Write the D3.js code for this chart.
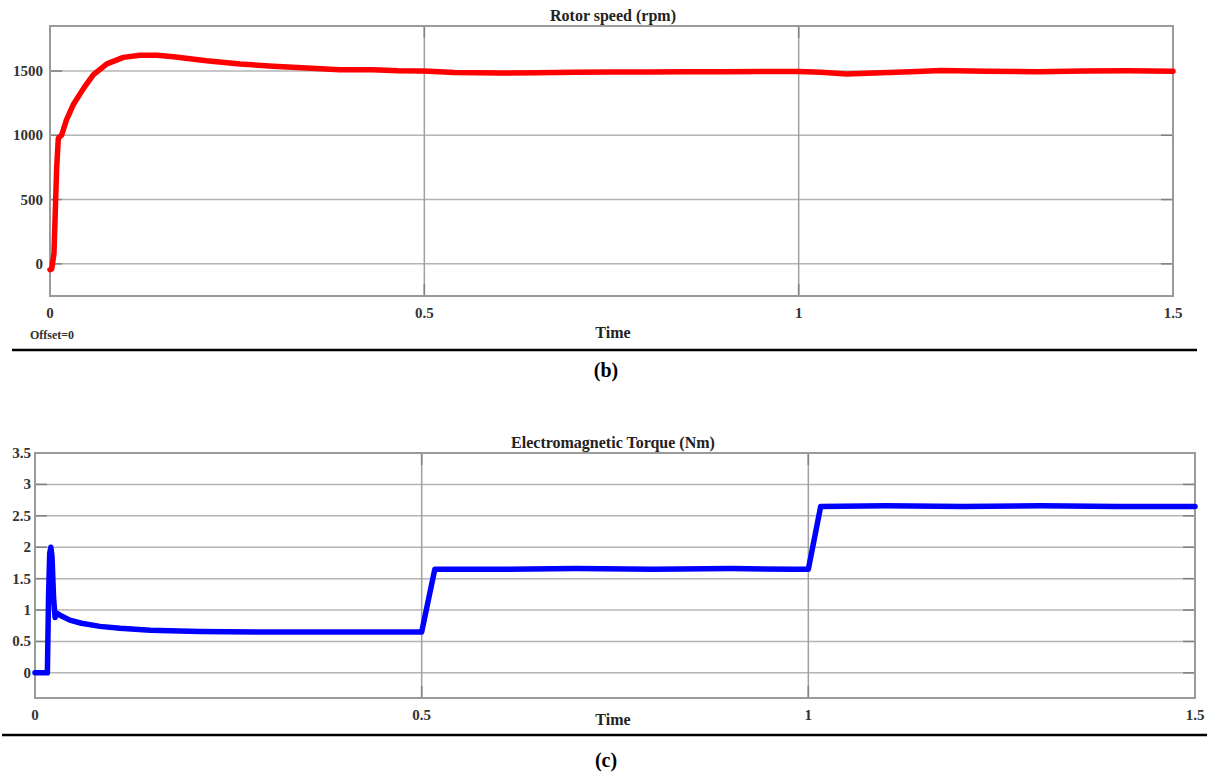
<!DOCTYPE html>
<html>
<head>
<meta charset="utf-8">
<script src="https://cdn.jsdelivr.net/npm/d3@7"></script>
<style>
  html, body { margin: 0; padding: 0; background: #fff; }
  svg { display: block; }
  text { font-family: "Liberation Serif", "Times New Roman", serif; font-weight: bold; }
</style>
</head>
<body>
<svg id="fig" width="1212" height="775"></svg>
<script>
// Rotor speed (rpm) over time (s)
const speedTime  = [0, 0.0023, 0.0053, 0.0089, 0.0111, 0.0156, 0.022, 0.031, 0.045, 0.058, 0.076, 0.098, 0.12, 0.143, 0.165, 0.209, 0.254, 0.298, 0.343, 0.387, 0.431, 0.465, 0.5, 0.54, 0.6, 0.65, 0.7, 0.75, 0.8, 0.85, 0.9, 0.95, 1.0, 1.03, 1.064, 1.1, 1.15, 1.19, 1.25, 1.32, 1.38, 1.44, 1.5];
const speedValue = [-45, -39, 80, 744, 977, 1002, 1120, 1237, 1367, 1471, 1555, 1606, 1622, 1622, 1611, 1580, 1555, 1537, 1523, 1510, 1510, 1502, 1500, 1488, 1484, 1486, 1490, 1492, 1492, 1494, 1495, 1497, 1496, 1490, 1477, 1484, 1494, 1503, 1498, 1495, 1500, 1502, 1498];

// Electromagnetic torque (Nm) over time (s)
const torqueTime  = [0, 0.016, 0.0175, 0.019, 0.0205, 0.022, 0.024, 0.026, 0.028, 0.035, 0.045, 0.06, 0.084, 0.11, 0.149, 0.213, 0.3, 0.4, 0.5, 0.517, 0.6, 0.7, 0.8, 0.9, 0.98, 1.0, 1.016, 1.1, 1.2, 1.3, 1.4, 1.5];
const torqueValue = [0, 0, 1.2, 1.9, 2.0, 1.85, 1.2, 0.88, 0.95, 0.9, 0.84, 0.79, 0.74, 0.71, 0.68, 0.66, 0.65, 0.65, 0.65, 1.65, 1.65, 1.66, 1.65, 1.66, 1.65, 1.65, 2.65, 2.66, 2.65, 2.66, 2.65, 2.65];

const timeTicks   = [0, 0.5, 1, 1.5];
const speedTicks  = [0, 500, 1000, 1500];
const torqueTicks = [0, 0.5, 1, 1.5, 2, 2.5, 3, 3.5];

const svg = d3.select("#fig");

function drawPanel(cfg) {
  const g = svg.append("g");
  const x = d3.scaleLinear().domain([0, 1.5]).range([cfg.left, cfg.right]);
  const y = d3.scaleLinear().domain(cfg.yDomain).range([cfg.bottom, cfg.top]);

  // horizontal grid
  g.selectAll("line.hgrid").data(cfg.yTicks).join("line")
    .attr("class", "hgrid")
    .attr("x1", cfg.left).attr("x2", cfg.right)
    .attr("y1", d => y(d)).attr("y2", d => y(d))
    .attr("stroke", "#b4b4b4").attr("stroke-width", 1.5);
  // vertical grid
  g.selectAll("line.vgrid").data(timeTicks.slice(1, -1)).join("line")
    .attr("class", "vgrid")
    .attr("y1", cfg.top).attr("y2", cfg.bottom)
    .attr("x1", d => x(d)).attr("x2", d => x(d))
    .attr("stroke", "#a0a0a0").attr("stroke-width", 1.5);

  // inward tick marks on all four sides
  const tl = 12;
  g.selectAll("line.ytl").data(cfg.yTicks).join("line")
    .attr("class", "ytl")
    .attr("x1", cfg.left).attr("x2", cfg.left + tl)
    .attr("y1", d => y(d)).attr("y2", d => y(d))
    .attr("stroke", "#808080").attr("stroke-width", 1.5);
  g.selectAll("line.ytr").data(cfg.yTicks).join("line")
    .attr("class", "ytr")
    .attr("x1", cfg.right - tl).attr("x2", cfg.right)
    .attr("y1", d => y(d)).attr("y2", d => y(d))
    .attr("stroke", "#808080").attr("stroke-width", 1.5);
  g.selectAll("line.xtb").data(timeTicks).join("line")
    .attr("class", "xtb")
    .attr("x1", d => x(d)).attr("x2", d => x(d))
    .attr("y1", cfg.bottom - tl).attr("y2", cfg.bottom)
    .attr("stroke", "#808080").attr("stroke-width", 1.5);
  g.selectAll("line.xtt").data(timeTicks).join("line")
    .attr("class", "xtt")
    .attr("x1", d => x(d)).attr("x2", d => x(d))
    .attr("y1", cfg.top).attr("y2", cfg.top + tl)
    .attr("stroke", "#808080").attr("stroke-width", 1.5);

  // frame
  g.append("rect")
    .attr("x", cfg.left).attr("y", cfg.top)
    .attr("width", cfg.right - cfg.left).attr("height", cfg.bottom - cfg.top)
    .attr("fill", "none").attr("stroke", "#9a9a9a").attr("stroke-width", 2);

  // data trace
  const line = d3.line().x(d => x(d[0])).y(d => y(d[1]));
  g.append("path")
    .datum(d3.zip(cfg.tData, cfg.vData))
    .attr("d", line)
    .attr("fill", "none")
    .attr("stroke", cfg.color)
    .attr("stroke-width", 5.5)
    .attr("stroke-linejoin", "round")
    .attr("stroke-linecap", "round");

  // y tick labels
  g.selectAll("text.ylab").data(cfg.yTicks).join("text")
    .attr("class", "ylab")
    .attr("x", cfg.left - cfg.yLabGap).attr("y", d => y(d) + 5)
    .attr("text-anchor", "end").attr("font-size", 15).attr("fill", "#333")
    .text(d => d3.format("")(d));
  // x tick labels
  g.selectAll("text.xlab").data(timeTicks).join("text")
    .attr("class", "xlab")
    .attr("x", d => x(d)).attr("y", cfg.bottom + 22)
    .attr("text-anchor", "middle").attr("font-size", 15).attr("fill", "#333")
    .text(d => d3.format("")(d));

  // title, axis label
  g.append("text").attr("x", 613).attr("y", cfg.top - 5)
    .attr("text-anchor", "middle").attr("font-size", 16).attr("fill", "#222")
    .text(cfg.title);
  g.append("text").attr("x", 613).attr("y", cfg.timeY)
    .attr("text-anchor", "middle").attr("font-size", 16).attr("fill", "#222")
    .text("Time");

  // separator rule and panel letter
  g.append("line")
    .attr("x1", cfg.sepX[0]).attr("x2", cfg.sepX[1])
    .attr("y1", cfg.sepY).attr("y2", cfg.sepY)
    .attr("stroke", "#000").attr("stroke-width", 2.5);
  g.append("text").attr("x", 606).attr("y", cfg.letterY)
    .attr("text-anchor", "middle").attr("font-size", 20).attr("fill", "#000")
    .text(cfg.letter);
  return g;
}

const speedPanel = drawPanel({
  left: 50, right: 1173, top: 26, bottom: 296,
  yDomain: [-250, 1850], yTicks: speedTicks, yLabGap: 7,
  tData: speedTime, vData: speedValue, color: "#ff0000",
  title: "Rotor speed (rpm)", timeY: 338,
  sepX: [12, 1197], sepY: 350, letterY: 377, letter: "(b)"
});
speedPanel.append("text").attr("x", 52).attr("y", 339)
  .attr("text-anchor", "middle")
  .attr("font-size", 12).attr("fill", "#333").text("Offset=0");

drawPanel({
  left: 35, right: 1195, top: 453, bottom: 698,
  yDomain: [-0.4, 3.5], yTicks: torqueTicks, yLabGap: 4,
  tData: torqueTime, vData: torqueValue, color: "#0000ff",
  title: "Electromagnetic Torque (Nm)", timeY: 725,
  sepX: [2, 1207], sepY: 735, letterY: 767, letter: "(c)"
});
</script>
</body>
</html>
